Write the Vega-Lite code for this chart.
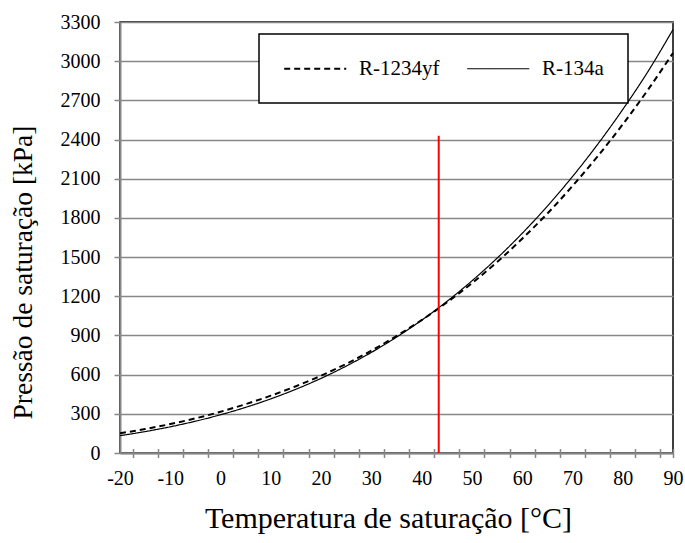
{
  "$schema": "https://vega.github.io/schema/vega-lite/v6.json",
  "width": 553,
  "height": 431,
  "autosize": {"type": "none"},
  "padding": {"left": 120, "top": 22, "right": 12, "bottom": 90},
  "background": "white",
  "config": {
    "view": {"stroke": "black", "strokeWidth": 1.5},
    "font": "Liberation Serif",
    "axis": {"labelFont": "Liberation Serif", "titleFont": "Liberation Serif", "labelColor": "black", "titleColor": "black", "titleFontWeight": "normal"},
    "legend": {"labelFont": "Liberation Serif"}
  },
  "datasets": {
    "curves": [
      {"t": -20, "p": 151.0, "fluido": "R-1234yf"},
      {"t": -15, "p": 183.5, "fluido": "R-1234yf"},
      {"t": -10, "p": 221.3, "fluido": "R-1234yf"},
      {"t": -5, "p": 265.1, "fluido": "R-1234yf"},
      {"t": 0, "p": 315.8, "fluido": "R-1234yf"},
      {"t": 5, "p": 374.0, "fluido": "R-1234yf"},
      {"t": 10, "p": 438.9, "fluido": "R-1234yf"},
      {"t": 15, "p": 511.3, "fluido": "R-1234yf"},
      {"t": 20, "p": 591.8, "fluido": "R-1234yf"},
      {"t": 25, "p": 682.5, "fluido": "R-1234yf"},
      {"t": 30, "p": 783.7, "fluido": "R-1234yf"},
      {"t": 35, "p": 895.6, "fluido": "R-1234yf"},
      {"t": 40, "p": 1017.7, "fluido": "R-1234yf"},
      {"t": 45, "p": 1152.0, "fluido": "R-1234yf"},
      {"t": 50, "p": 1300.0, "fluido": "R-1234yf"},
      {"t": 55, "p": 1462.0, "fluido": "R-1234yf"},
      {"t": 60, "p": 1641.0, "fluido": "R-1234yf"},
      {"t": 65, "p": 1833.0, "fluido": "R-1234yf"},
      {"t": 70, "p": 2044.0, "fluido": "R-1234yf"},
      {"t": 75, "p": 2271.0, "fluido": "R-1234yf"},
      {"t": 80, "p": 2516.0, "fluido": "R-1234yf"},
      {"t": 85, "p": 2780.0, "fluido": "R-1234yf"},
      {"t": 90, "p": 3063.0, "fluido": "R-1234yf"},
      {"t": -20, "p": 132.7, "fluido": "R-134a"},
      {"t": -15, "p": 163.9, "fluido": "R-134a"},
      {"t": -10, "p": 200.6, "fluido": "R-134a"},
      {"t": -5, "p": 243.3, "fluido": "R-134a"},
      {"t": 0, "p": 292.8, "fluido": "R-134a"},
      {"t": 5, "p": 349.6, "fluido": "R-134a"},
      {"t": 10, "p": 414.6, "fluido": "R-134a"},
      {"t": 15, "p": 488.3, "fluido": "R-134a"},
      {"t": 20, "p": 571.7, "fluido": "R-134a"},
      {"t": 25, "p": 665.4, "fluido": "R-134a"},
      {"t": 30, "p": 770.2, "fluido": "R-134a"},
      {"t": 35, "p": 887.0, "fluido": "R-134a"},
      {"t": 40, "p": 1016.6, "fluido": "R-134a"},
      {"t": 45, "p": 1159.9, "fluido": "R-134a"},
      {"t": 50, "p": 1317.9, "fluido": "R-134a"},
      {"t": 55, "p": 1491.5, "fluido": "R-134a"},
      {"t": 60, "p": 1681.8, "fluido": "R-134a"},
      {"t": 65, "p": 1889.7, "fluido": "R-134a"},
      {"t": 70, "p": 2116.2, "fluido": "R-134a"},
      {"t": 75, "p": 2362.6, "fluido": "R-134a"},
      {"t": 80, "p": 2630.0, "fluido": "R-134a"},
      {"t": 85, "p": 2919.4, "fluido": "R-134a"},
      {"t": 90, "p": 3242.0, "fluido": "R-134a"}
    ],
    "marker": [{"t": 43.4, "p": 0, "p1": 2430}]
  },
  "layer": [
    {
      "data": {"name": "curves"},
      "transform": [{"filter": "datum.fluido === 'R-1234yf'"}],
      "mark": {"type": "line", "interpolate": "monotone", "color": "black"},
      "encoding": {
        "x": {
          "field": "t", "type": "quantitative",
          "scale": {"domain": [-20, 90], "nice": false, "zero": false},
          "axis": {
            "orient": "bottom",
            "values": [-20, -10, 0, 10, 20, 30, 40, 50, 60, 70, 80, 90],
            "labelExpr": "'' + datum.value",
            "ticks": false, "tickSize": 0, "grid": false,
            "labelFontSize": 20, "labelPadding": 15, "labelFlush": false, "labelOverlap": false,
            "domainColor": "#878787", "domainWidth": 2,
            "title": "Temperatura de saturação [°C]",
            "titleFontSize": 30, "titleX": 268, "titleY": 65,
            "titleBaseline": "middle", "titleAlign": "center"
          }
        },
        "y": {
          "field": "p", "type": "quantitative",
          "scale": {"domain": [0, 3300], "nice": false},
          "axis": {
            "values": [0, 300, 600, 900, 1200, 1500, 1800, 2100, 2400, 2700, 3000, 3300],
            "format": "d", "labelOverlap": false, "labelFlush": false,
            "grid": true, "gridColor": "#878787", "gridWidth": 1.5,
            "tickColor": "#878787", "tickSize": 6, "tickWidth": 1.5,
            "domainColor": "#878787", "domainWidth": 2,
            "labelFontSize": 20, "labelPadding": 14,
            "title": "Pressão de saturação [kPa]",
            "titleFontSize": 27.5, "titleAngle": -90,
            "titleX": -97, "titleY": 250,
            "titleBaseline": "middle", "titleAlign": "center"
          }
        },
        "strokeDash": {
          "field": "fluido", "type": "nominal",
          "scale": {"domain": ["R-1234yf", "R-134a"], "range": [[6, 4], [1, 0]]},
          "legend": {
            "title": null, "orient": "none", "direction": "horizontal",
            "legendX": 139, "legendY": 12,
            "padding": 24, "fillColor": "white", "strokeColor": "black",
            "symbolType": "M-1.5,0H8.5", "symbolSize": 154,
            "symbolStrokeColor": "black",
            "labelFontSize": 21, "labelOffset": 55, "columnPadding": 24,
            "labelColor": "black",
            "encode": {"legend": {"update": {"strokeWidth": {"value": 1.5}}}}
          }
        },
        "strokeWidth": {
          "field": "fluido", "type": "nominal",
          "scale": {"domain": ["R-1234yf", "R-134a"], "range": [2, 1.2]},
          "legend": null
        }
      }
    },
    {
      "data": {"name": "curves"},
      "transform": [{"filter": "datum.fluido === 'R-134a'"}],
      "mark": {"type": "line", "interpolate": "monotone", "color": "black"},
      "encoding": {
        "x": {
          "field": "t", "type": "quantitative",
          "axis": {
            "orient": "bottom",
            "values": [-17.5, -12.5, -7.5, -2.5, 2.5, 7.5, 12.5, 17.5, 22.5, 27.5, 32.5, 37.5, 42.5, 47.5, 52.5, 57.5, 62.5, 67.5, 72.5, 77.5, 82.5, 87.5, 90],
            "labels": false, "domain": false, "grid": false, "title": null,
            "ticks": true, "tickSize": 4.5, "tickColor": "#878787", "tickWidth": 1.5
          }
        },
        "y": {
          "field": "p", "type": "quantitative",
          "axis": {
            "values": [0, 300, 600, 900, 1200, 1500, 1800, 2100, 2400, 2700, 3000, 3300],
            "format": "d", "labelOverlap": false, "labelFlush": false,
            "grid": true, "gridColor": "#878787", "gridWidth": 1.5,
            "tickColor": "#878787", "tickSize": 6, "tickWidth": 1.5,
            "domainColor": "#878787", "domainWidth": 2,
            "labelFontSize": 20, "labelPadding": 14,
            "title": "Pressão de saturação [kPa]",
            "titleFontSize": 27.5, "titleAngle": -90,
            "titleX": -97, "titleY": 250,
            "titleBaseline": "middle", "titleAlign": "center"
          }
        },
        "strokeDash": {"field": "fluido", "type": "nominal"},
        "strokeWidth": {"field": "fluido", "type": "nominal", "legend": null}
      }
    },
    {
      "data": {"name": "marker"},
      "mark": {"type": "rule", "color": "#FF0000", "strokeWidth": 2},
      "encoding": {
        "x": {
          "field": "t", "type": "quantitative",
          "axis": {
            "orient": "bottom",
            "values": [-17.5, -12.5, -7.5, -2.5, 2.5, 7.5, 12.5, 17.5, 22.5, 27.5, 32.5, 37.5, 42.5, 47.5, 52.5, 57.5, 62.5, 67.5, 72.5, 77.5, 82.5, 87.5, 90],
            "labels": false, "domain": false, "grid": false, "title": null,
            "ticks": true, "tickSize": -4.5, "tickColor": "#878787", "tickWidth": 1.5
          }
        },
        "y": {
          "field": "p", "type": "quantitative",
          "axis": {
            "values": [0, 300, 600, 900, 1200, 1500, 1800, 2100, 2400, 2700, 3000, 3300],
            "format": "d", "labelOverlap": false, "labelFlush": false,
            "grid": true, "gridColor": "#878787", "gridWidth": 1.5,
            "tickColor": "#878787", "tickSize": 6, "tickWidth": 1.5,
            "domainColor": "#878787", "domainWidth": 2,
            "labelFontSize": 20, "labelPadding": 14,
            "title": "Pressão de saturação [kPa]",
            "titleFontSize": 27.5, "titleAngle": -90,
            "titleX": -97, "titleY": 250,
            "titleBaseline": "middle", "titleAlign": "center"
          }
        },
        "y2": {"field": "p1"}
      }
    }
  ],
  "resolve": {"axis": {"x": "independent"}}
}
